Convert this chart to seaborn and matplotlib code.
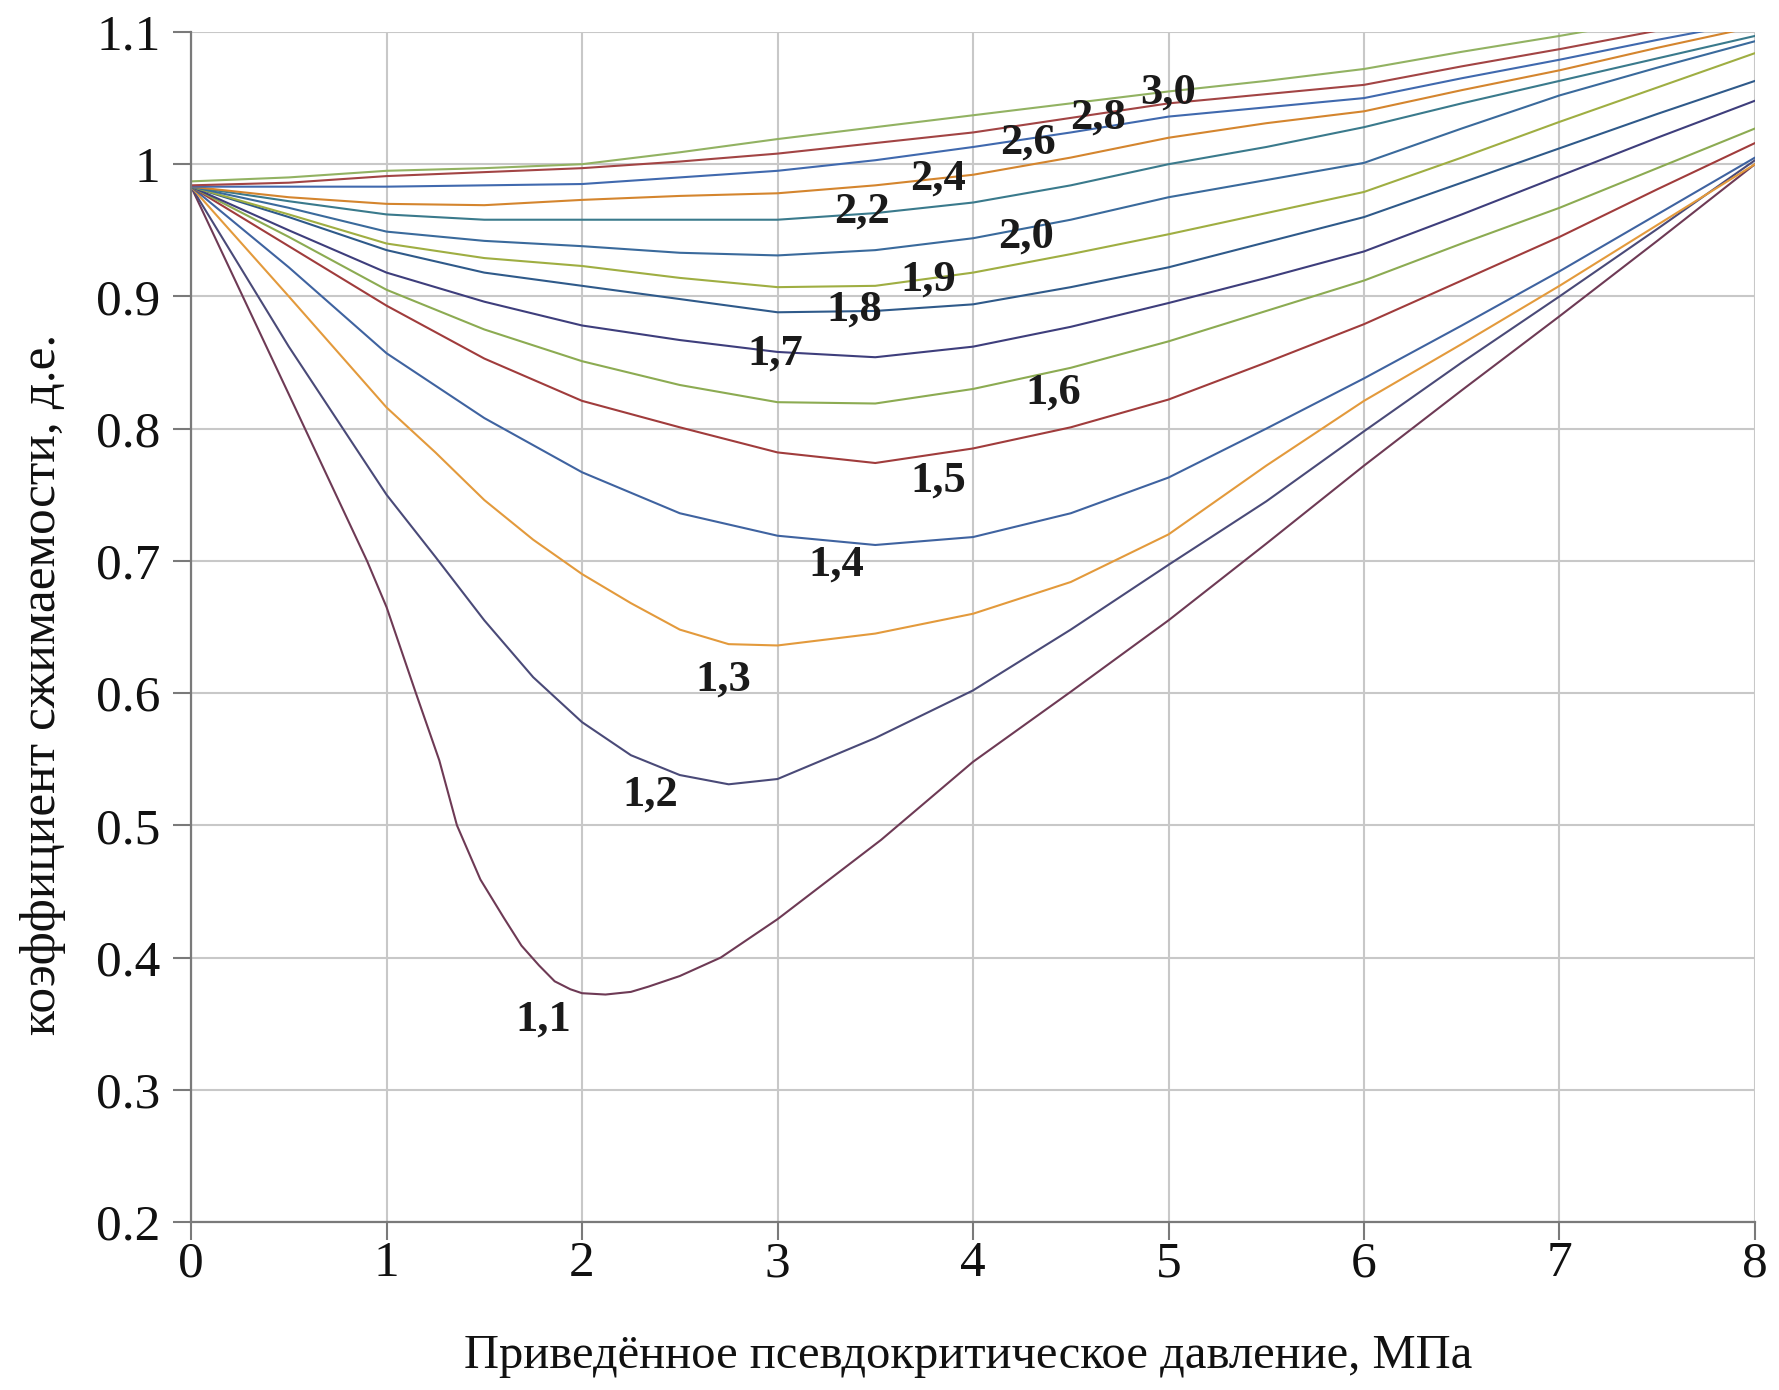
import matplotlib
matplotlib.use("Agg")
import matplotlib.pyplot as plt
import pandas as pd
import seaborn as sns

# ---------------- data ----------------
# reduced pseudo-critical pressure grids
p_11 = [0, 0.5, 0.9, 1.0, 1.15, 1.27, 1.36, 1.48, 1.6, 1.69, 1.78, 1.86, 1.94, 2.0, 2.12,
        2.25, 2.34, 2.5, 2.71, 3.0, 3.53, 4.0, 4.5, 5.0, 5.5, 6.0, 6.5, 7.0, 7.5, 8.0]
p_fine = [0, 0.5, 1, 1.25, 1.5, 1.75, 2, 2.25, 2.5, 2.75, 3, 3.5, 4, 4.5, 5, 5.5, 6, 6.5, 7, 7.5, 8]
p_coarse = [0, 0.5, 1, 1.5, 2, 2.5, 3, 3.5, 4, 4.5, 5, 5.5, 6, 6.5, 7, 7.5, 8]

z_11 = [0.983, 0.826, 0.700, 0.665, 0.600, 0.549, 0.500, 0.459, 0.430, 0.409, 0.394, 0.382,
        0.376, 0.373, 0.372, 0.374, 0.378, 0.386, 0.400, 0.429, 0.489, 0.548, 0.601, 0.655,
        0.713, 0.772, 0.829, 0.885, 0.942, 1.000]
z_12 = [0.983, 0.862, 0.750, 0.703, 0.655, 0.612, 0.578, 0.553, 0.538, 0.531, 0.535,
        0.566, 0.602, 0.648, 0.697, 0.745, 0.798, 0.850, 0.900, 0.951, 1.003]
z_13 = [0.983, 0.900, 0.816, 0.782, 0.746, 0.716, 0.690, 0.668, 0.648, 0.637, 0.636,
        0.645, 0.660, 0.684, 0.720, 0.772, 0.821, 0.864, 0.908, 0.954, 1.000]
z_14 = [0.983, 0.922, 0.857, 0.808, 0.767, 0.736, 0.719, 0.712, 0.718, 0.736, 0.763,
        0.800, 0.838, 0.878, 0.919, 0.962, 1.005]
z_15 = [0.983, 0.938, 0.893, 0.853, 0.821, 0.801, 0.782, 0.774, 0.785, 0.801, 0.822,
        0.850, 0.879, 0.912, 0.945, 0.981, 1.016]
z_16 = [0.983, 0.945, 0.905, 0.875, 0.851, 0.833, 0.820, 0.819, 0.830, 0.846, 0.866,
        0.889, 0.912, 0.940, 0.967, 0.997, 1.027]
z_17 = [0.983, 0.950, 0.918, 0.896, 0.878, 0.867, 0.858, 0.854, 0.862, 0.877, 0.895,
        0.914, 0.934, 0.962, 0.991, 1.020, 1.048]
z_18 = [0.983, 0.960, 0.935, 0.918, 0.908, 0.898, 0.888, 0.889, 0.894, 0.907, 0.922,
        0.941, 0.960, 0.986, 1.012, 1.038, 1.063]
z_19 = [0.983, 0.962, 0.940, 0.929, 0.923, 0.914, 0.907, 0.908, 0.918, 0.932, 0.947,
        0.963, 0.979, 1.005, 1.032, 1.058, 1.084]
z_20 = [0.983, 0.967, 0.949, 0.942, 0.938, 0.933, 0.931, 0.935, 0.944, 0.958, 0.975,
        0.988, 1.001, 1.027, 1.052, 1.073, 1.093]
z_22 = [0.983, 0.972, 0.962, 0.958, 0.958, 0.958, 0.958, 0.963, 0.971, 0.984, 1.000,
        1.013, 1.028, 1.046, 1.063, 1.080, 1.097]
z_24 = [0.983, 0.975, 0.970, 0.969, 0.973, 0.976, 0.978, 0.984, 0.992, 1.005, 1.020,
        1.031, 1.040, 1.056, 1.071, 1.088, 1.104]
z_26 = [0.983, 0.983, 0.983, 0.984, 0.985, 0.990, 0.995, 1.003, 1.013, 1.024, 1.036,
        1.043, 1.050, 1.065, 1.079, 1.094, 1.108]
z_28 = [0.984, 0.986, 0.991, 0.994, 0.997, 1.002, 1.008, 1.016, 1.024, 1.035, 1.046,
        1.053, 1.060, 1.074, 1.087, 1.101, 1.115]
z_30 = [0.987, 0.990, 0.995, 0.997, 1.000, 1.009, 1.019, 1.028, 1.037, 1.046, 1.055,
        1.063, 1.072, 1.085, 1.097, 1.110, 1.123]

tpr_names = ["1,1", "1,2", "1,3", "1,4", "1,5", "1,6", "1,7", "1,8", "1,9", "2,0",
             "2,2", "2,4", "2,6", "2,8", "3,0"]
series_z = [z_11, z_12, z_13, z_14, z_15, z_16, z_17, z_18, z_19, z_20,
            z_22, z_24, z_26, z_28, z_30]
series_p = [p_11, p_fine, p_fine] + [p_coarse] * 12
line_colors = ["#6e3a55", "#4a4a78", "#e39a3c", "#3f63a0", "#a03c3c", "#8cab52",
               "#3e3e7c", "#2f5a8a", "#9fae42", "#3a6a9c", "#3a7a8c", "#d4852e",
               "#4069ae", "#a24444", "#92b262"]

# curve-label anchor positions (data coords)
label_x = [1.80, 2.35, 2.72, 3.30, 3.82, 4.41, 2.99, 3.39, 3.77, 4.27, 3.43, 3.82, 4.28, 4.64, 5.00]
label_y = [0.353, 0.523, 0.610, 0.697, 0.761, 0.827, 0.857, 0.890, 0.913, 0.945, 0.964,
           0.989, 1.016, 1.035, 1.054]

x_ticks = [0, 1, 2, 3, 4, 5, 6, 7, 8]
y_ticks = [0.2, 0.3, 0.4, 0.5, 0.6, 0.7, 0.8, 0.9, 1.0, 1.1]
y_tick_labels = ["0.2", "0.3", "0.4", "0.5", "0.6", "0.7", "0.8", "0.9", "1", "1.1"]

x_title = "Приведённое псевдокритическое давление, МПа"
y_title = "коэффициент сжимаемости, д.е."

# ---------------- build long table ----------------
rows = []
for name, ps, zs in zip(tpr_names, series_p, series_z):
    for p, z in zip(ps, zs):
        rows.append({"p": p, "z": z, "tpr": name})
df = pd.DataFrame(rows)

# ---------------- style ----------------
sns.set_theme(style="whitegrid")
plt.rcParams["font.family"] = ["Liberation Serif", "DejaVu Serif"]

fig = plt.figure(figsize=(17.79, 13.90), dpi=100)
ax = fig.add_axes([0.1074, 0.1209, 0.8791, 0.8561])

sns.lineplot(data=df, x="p", y="z", hue="tpr", hue_order=tpr_names,
             palette=dict(zip(tpr_names, line_colors)), estimator=None,
             sort=False, linewidth=1.5, legend=False, ax=ax)

ax.set_xlim(0, 8)
ax.set_ylim(0.2, 1.1)
ax.set_xticks(x_ticks)
ax.set_xticklabels([str(t) for t in x_ticks])
ax.set_yticks(y_ticks)
ax.set_yticklabels(y_tick_labels)

ax.grid(True, color="#c8c8c8", linewidth=1.5)
ax.set_facecolor("white")
for side in ["top", "right"]:
    ax.spines[side].set_visible(False)
for side in ["left", "bottom"]:
    ax.spines[side].set_visible(True)
    ax.spines[side].set_color("#7a7a7a")
    ax.spines[side].set_linewidth(1.6)

ax.tick_params(axis="both", which="major", bottom=True, left=True, direction="out",
               length=13, width=1.5, color="#7a7a7a", labelsize=37, labelcolor="#111111")
ax.tick_params(axis="x", pad=0.5)
ax.tick_params(axis="y", pad=9)

ax.set_xlabel(x_title, fontsize=35, color="#111111")
ax.set_ylabel(y_title, fontsize=37, color="#111111")
ax.xaxis.label.set_va("center")
ax.yaxis.label.set_va("center")
ax.xaxis.set_label_coords(0.497, -0.1126)
ax.yaxis.set_label_coords(-0.0946, 0.452)

for name, lx, ly in zip(tpr_names, label_x, label_y):
    ax.text(lx, ly, name, ha="center", va="center", fontsize=32,
            fontweight="bold", color="#1a1a1a")

fig.savefig("out.png", dpi=100, facecolor="white")
